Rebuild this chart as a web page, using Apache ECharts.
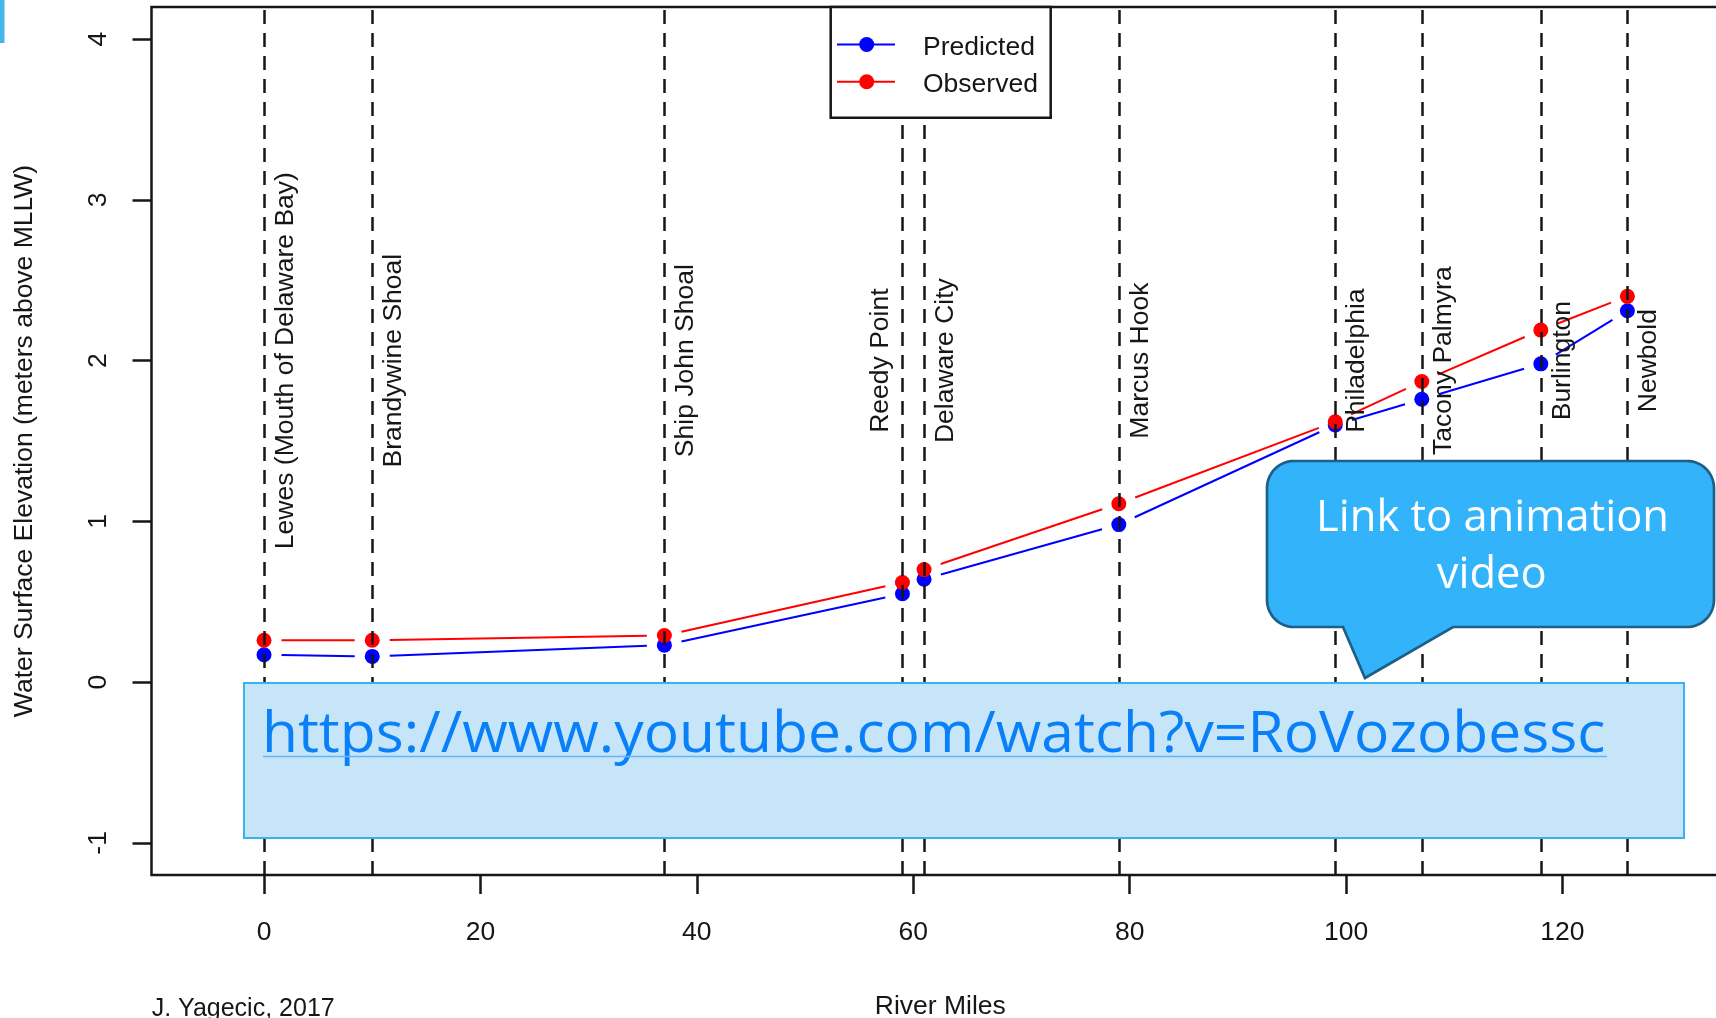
<!DOCTYPE html>
<html>
<head>
<meta charset="utf-8">
<script src="https://cdn.jsdelivr.net/npm/echarts@6/dist/echarts.min.js"></script>
<style>
html,body{margin:0;padding:0;background:#fff;}
#chart{width:1716px;height:1018px;}
</style>
</head>
<body>
<div id="chart"></div>
<script>
// ---------------- data ----------------
const stations = ['Lewes (Mouth of Delaware Bay)', 'Brandywine Shoal', 'Ship John Shoal', 'Reedy Point',
  'Delaware City', 'Marcus Hook', 'Philadelphia', 'Tacony Palmyra', 'Burlington', 'Newbold'];
const riverMiles = [0, 10, 37, 59, 61, 79, 99, 107, 118, 126];
const predicted = [0.17, 0.16, 0.23, 0.55, 0.64, 0.98, 1.60, 1.76, 1.98, 2.31];
const observed  = [0.26, 0.26, 0.29, 0.62, 0.70, 1.11, 1.62, 1.87, 2.19, 2.40];
const xTicks = [0, 20, 40, 60, 80, 100, 120];
const yTicks = [-1, 0, 1, 2, 3, 4];
const seriesNames = ['Predicted', 'Observed'];
const xTitle = 'River Miles';
const yTitle = 'Water Surface Elevation (meters above MLLW)';
const footnote = 'J. Yagecic, 2017';
const linkText = 'https://www.youtube.com/watch?v=RoVozobessc';
const calloutLines = ['Link to animation', 'video'];
const LABEL_Y = 2;            // station labels are centred at this elevation
const labelLeftOf = ['Reedy Point'];

// ---------------- styles ----------------
const RFONT = '"Liberation Sans", Arial, sans-serif';
const PFONT = '"Open Sans", sans-serif';
const FS = 26.5;
const INK = '#161616';
const BLUE = '#0000FF', RED = '#FF0000';

function ctx2d(size, family) {
  const c = document.createElement('canvas').getContext('2d');
  c.font = size + 'px ' + family;
  return c;
}
function midToBase(size, family) {
  const c = ctx2d(size, family);
  c.textBaseline = 'middle';
  return c.measureText('H').actualBoundingBoxDescent;
}
function fit(text, size, family, inkL, inkR) {
  const c = ctx2d(size, family);
  c.textAlign = 'left';
  const m = c.measureText(text);
  const ink = m.actualBoundingBoxRight + m.actualBoundingBoxLeft;
  const s = (inkR - inkL) / ink;
  return { x: inkL + s * m.actualBoundingBoxLeft, scaleX: s };
}

function segments(vals) {
  const out = [];
  for (let i = 0; i < riverMiles.length - 1; i++) {
    out.push([riverMiles[i], vals[i], riverMiles[i + 1], vals[i + 1]]);
  }
  return out;
}
function gapLine(color) {
  return function (params, api) {
    const a = api.coord([api.value(0), api.value(1)]);
    const b = api.coord([api.value(2), api.value(3)]);
    const dx = b[0] - a[0], dy = b[1] - a[1], len = Math.hypot(dx, dy), g = 17.5;
    if (len <= 2 * g) return null;
    const ux = dx / len, uy = dy / len;
    return {
      type: 'line',
      shape: { x1: a[0] + ux * g, y1: a[1] + uy * g, x2: b[0] - ux * g, y2: b[1] - uy * g },
      style: { stroke: color, lineWidth: 2 }
    };
  };
}

const chart = echarts.init(document.getElementById('chart'), null, { renderer: 'canvas' });

// ---------------- overlay (legend + slide annotations) ----------------
const legendYs = [44.5, 81.8];
const legendColors = [BLUE, RED];
const graphics = [];
graphics.push({ type: 'rect', z: 100, shape: { x: 830.7, y: 7, width: 220, height: 110.7 },
  style: { fill: '#fff', stroke: INK, lineWidth: 2.5 } });
const rOff = midToBase(FS, RFONT);
seriesNames.forEach((n, i) => {
  const y = legendYs[i];
  graphics.push({ type: 'line', z: 101, shape: { x1: 837, y1: y, x2: 895, y2: y }, style: { stroke: legendColors[i], lineWidth: 2 } });
  graphics.push({ type: 'circle', z: 102, shape: { cx: 866.7, cy: y, r: 7.5 }, style: { fill: legendColors[i] } });
  graphics.push({ type: 'text', z: 102, x: 923, y: y + 10 - rOff,
    style: { text: n, fontSize: FS, fontFamily: RFONT, fill: INK, align: 'left', verticalAlign: 'middle' } });
});
// footnote
const FFS = 25;
graphics.push({ type: 'text', z: 50, x: 151.7, y: 1016 - midToBase(FFS, RFONT),
  style: { text: footnote, fontSize: FFS, fontFamily: RFONT, fill: INK, align: 'left', verticalAlign: 'middle' } });

// top-left accent
graphics.push({ type: 'rect', z: 120, shape: { x: 0, y: 0, width: 4.5, height: 43 }, style: { fill: '#45B5EE' } });

// link box
graphics.push({ type: 'rect', z: 110, shape: { x: 244, y: 683, width: 1440, height: 155 },
  style: { fill: '#C6E5F9', stroke: '#38B3F2', lineWidth: 2 } });
const LFS = 57;
const lf = fit(linkText, LFS, PFONT, 266, 1604);
graphics.push({ type: 'text', z: 111, x: lf.x, y: 751.7 - midToBase(LFS, PFONT), scaleX: lf.scaleX,
  style: { text: linkText, fontSize: LFS, fontFamily: PFONT, fill: '#0A80F8', align: 'left', verticalAlign: 'middle' } });
graphics.push({ type: 'line', z: 111, shape: { x1: 263, y1: 756.5, x2: 1607, y2: 756.5 },
  style: { stroke: '#63B7F6', lineWidth: 1.5 } });

// callout
function callout(x0, y0, x1, y1, r, tl, tr, tx, ty) {
  const pts = [];
  const arc = (cx, cy, a0, a1) => {
    for (let k = 0; k <= 14; k++) {
      const a = a0 + (a1 - a0) * k / 14;
      pts.push([cx + r * Math.cos(a), cy + r * Math.sin(a)]);
    }
  };
  arc(x0 + r, y0 + r, Math.PI, 1.5 * Math.PI);
  arc(x1 - r, y0 + r, 1.5 * Math.PI, 2 * Math.PI);
  arc(x1 - r, y1 - r, 0, 0.5 * Math.PI);
  pts.push([tr, y1], [tx, ty], [tl, y1]);
  arc(x0 + r, y1 - r, 0.5 * Math.PI, Math.PI);
  return pts;
}
graphics.push({ type: 'polygon', z: 112,
  shape: { points: callout(1267, 461, 1714, 627, 27, 1343, 1453, 1365, 678) },
  style: { fill: '#33B4FA', stroke: '#1D5F86', lineWidth: 2.7 } });
const CFS = 44;
const cOff = midToBase(CFS, PFONT);
const c1 = fit(calloutLines[0], CFS, PFONT, 1320, 1666);
(function () {
  const c = ctx2d(CFS, PFONT);
  const m = c.measureText(calloutLines[1]);
  const ink = (m.actualBoundingBoxRight + m.actualBoundingBoxLeft) * c1.scaleX;
  const centre = (1320 + 1666) / 2 - 2;
  graphics.push({ type: 'text', z: 113, x: centre - ink / 2 + c1.scaleX * m.actualBoundingBoxLeft, y: 588 - cOff, scaleX: c1.scaleX,
    style: { text: calloutLines[1], fontSize: CFS, fontFamily: PFONT, fill: '#fff', align: 'left', verticalAlign: 'middle' } });
})();
graphics.push({ type: 'text', z: 113, x: c1.x, y: 530.7 - cOff, scaleX: c1.scaleX,
  style: { text: calloutLines[0], fontSize: CFS, fontFamily: PFONT, fill: '#fff', align: 'left', verticalAlign: 'middle' } });

// ---------------- chart ----------------
const option = {
  animation: false,
  backgroundColor: '#fff',
  grid: { left: 151.5, top: 7, width: 1577.6, height: 868, show: true, borderColor: INK, borderWidth: 2.5,
    backgroundColor: 'transparent', containLabel: false, outerBoundsMode: 'none' },
  xAxis: {
    type: 'value', min: -10.4, max: 135.4, position: 'bottom',
    axisLine: { show: false, onZero: false }, splitLine: { show: false },
    axisTick: { show: true, customValues: xTicks, length: 19, inside: false, lineStyle: { color: INK, width: 2.5 } },
    axisLabel: { show: true, customValues: xTicks, margin: 44, fontSize: FS, fontFamily: RFONT, color: INK },
    name: xTitle, nameLocation: 'middle', nameGap: 118.6, nameMoveOverlap: false,
    nameTextStyle: { fontSize: FS, fontFamily: RFONT, color: INK }
  },
  yAxis: {
    type: 'value', min: -1.2, max: 4.2, position: 'left',
    axisLine: { show: false, onZero: false }, splitLine: { show: false },
    axisTick: { show: true, customValues: yTicks, length: 19, inside: false, lineStyle: { color: INK, width: 2.5 } },
    axisLabel: { show: true, customValues: yTicks, rotate: 90, margin: 39.6, fontSize: FS, fontFamily: RFONT, color: INK },
    name: yTitle, nameLocation: 'middle', nameGap: 113.7, nameRotate: 90, nameMoveOverlap: false,
    nameTextStyle: { fontSize: FS, fontFamily: RFONT, color: INK }
  },
  graphic: { elements: graphics },
  series: [
    { type: 'custom', name: 'pred-line', z: 2, silent: true, encode: { x: [0, 2], y: [1, 3] },
      data: segments(predicted), renderItem: gapLine(BLUE) },
    { type: 'custom', name: 'obs-line', z: 2, silent: true, encode: { x: [0, 2], y: [1, 3] },
      data: segments(observed), renderItem: gapLine(RED) },
    { type: 'scatter', name: seriesNames[0], z: 3, symbol: 'circle', symbolSize: 15,
      itemStyle: { color: BLUE, opacity: 1 }, data: riverMiles.map((m, i) => [m, predicted[i]]) },
    { type: 'scatter', name: seriesNames[1], z: 3, symbol: 'circle', symbolSize: 15,
      itemStyle: { color: RED, opacity: 1 }, data: riverMiles.map((m, i) => [m, observed[i]]) },
    { type: 'scatter', name: 'stations', z: 4, data: [], silent: true,
      markLine: { silent: true, symbol: ['none', 'none'], label: { show: false }, animation: false,
        lineStyle: { color: INK, width: 2.5, type: [14, 9] },
        emphasis: { disabled: true },
        data: riverMiles.map(m => ({ xAxis: m })) } },
    { type: 'custom', name: 'station-labels', z: 5, silent: true, encode: { x: 0, y: 1 },
      data: riverMiles.map((m, i) => [m, LABEL_Y, i]),
      renderItem: function (params, api) {
        const idx = api.value(2);
        const side = labelLeftOf.indexOf(stations[idx]) >= 0 ? -1 : 1;
        const p = api.coord([api.value(0) + side * 2, api.value(1)]);
        return { type: 'text', x: p[0], y: p[1], rotation: Math.PI / 2,
          style: { text: stations[idx], fontSize: FS, fontFamily: RFONT, fill: INK, align: 'center', verticalAlign: 'middle' } };
      } }
  ]
};
chart.setOption(option);
</script>
</body>
</html>
